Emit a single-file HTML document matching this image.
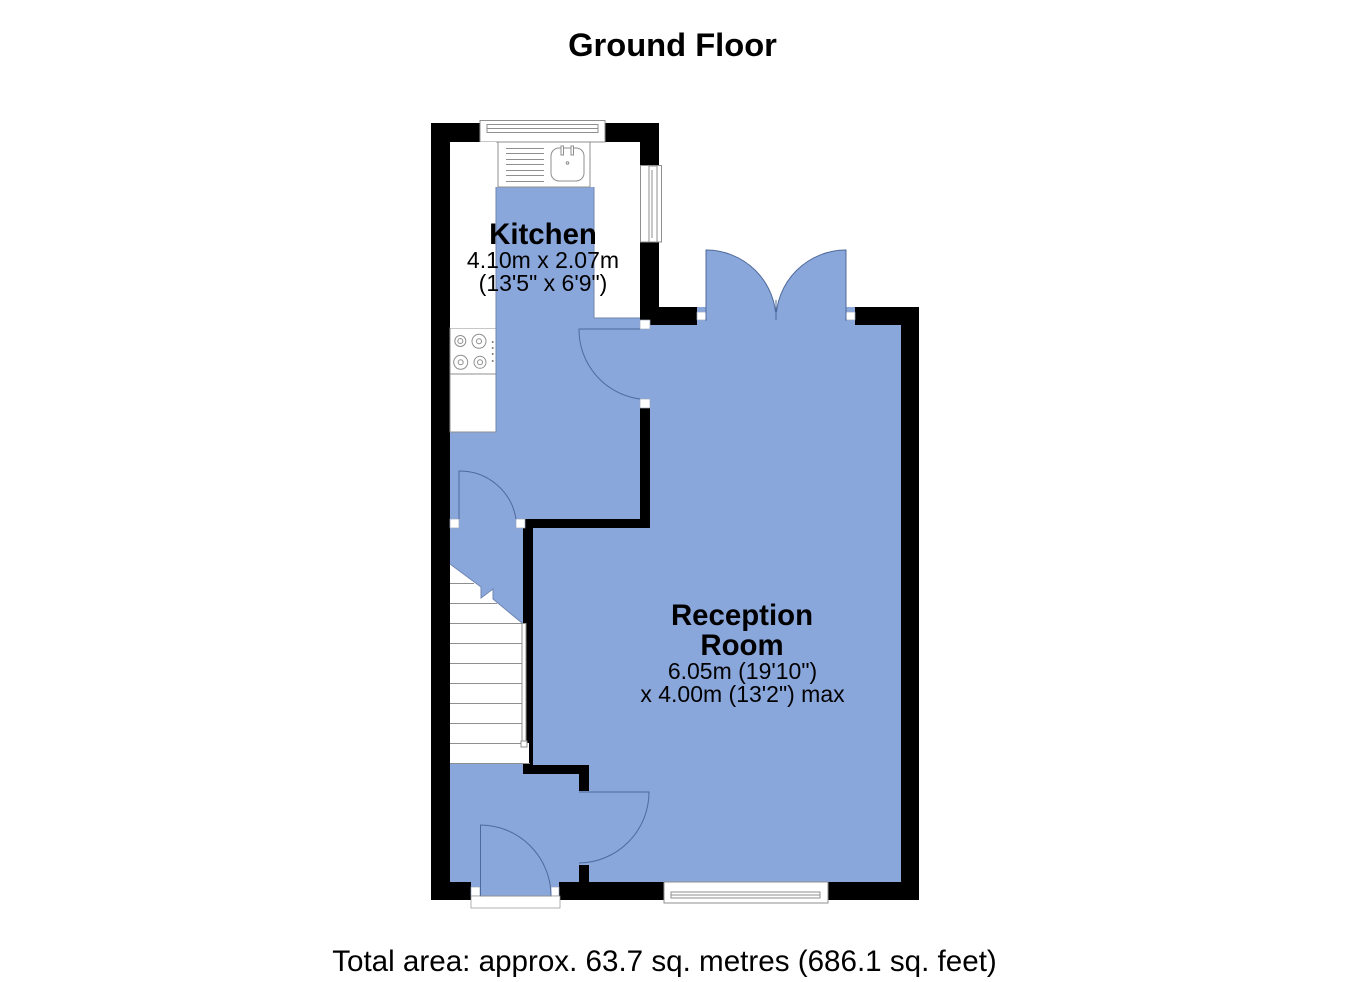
<!DOCTYPE html>
<html><head><meta charset="utf-8"><style>
html,body{margin:0;padding:0;background:#fff;width:1350px;height:982px;overflow:hidden}
svg{display:block;filter:blur(0.35px)}
text{font-family:"Liberation Sans",Arial,sans-serif;fill:#000;text-anchor:middle}
.b{font-weight:bold;font-size:29.4px}
.r{font-size:23px}
</style></head><body>
<svg width="1350" height="982" viewBox="0 0 1350 982" xmlns="http://www.w3.org/2000/svg">
<rect width="1350" height="982" fill="#fff"/>
<text x="672.5" y="56" style="font-weight:bold;font-size:32.7px">Ground Floor</text>
<text x="664.5" y="971" style="font-size:29.6px">Total area: approx. 63.7 sq. metres (686.1 sq. feet)</text>

<!-- blue floor -->
<g fill="#8aa7dc" stroke="none">
<path d="M496 187H594V318H640V329H650V320H901V882H450V432H496Z"/>
<rect x="533" y="320" width="368" height="562"/>
<rect x="450" y="432" width="73" height="132"/>
<path d="M450 528H523V623L493 599V589L481 598V587L450 564Z"/>
<rect x="450" y="763" width="130" height="125"/>
<rect x="697" y="307" width="10" height="6"/>
<rect x="846" y="307" width="10" height="6"/>
</g>

<!-- walls -->
<g fill="#000">
<rect x="431" y="123" width="19" height="777"/>
<rect x="431" y="123" width="49" height="19"/>
<rect x="605" y="123" width="54" height="19"/>
<rect x="640" y="123" width="19" height="42"/>
<rect x="640" y="242" width="19" height="83"/>
<rect x="640" y="307" width="57" height="18"/>
<rect x="855" y="307" width="64" height="18"/>
<rect x="901" y="307" width="18" height="593"/>
<rect x="640" y="408" width="10" height="120"/>
<rect x="523" y="519" width="127" height="9"/>
<rect x="523" y="519" width="10" height="255"/>
<rect x="523" y="765" width="66" height="9"/>
<rect x="579" y="765" width="10" height="26"/>
<rect x="579" y="865" width="10" height="20"/>
<rect x="431" y="882" width="40" height="18"/>
<rect x="559" y="882" width="105" height="18"/>
<rect x="828" y="882" width="91" height="18"/>
</g>

<g fill="#fff" stroke="#8f8f8f" stroke-width="1">
<!-- top window -->
<rect x="480" y="120.500" width="125" height="21.500"/>
<rect x="487" y="124.500" width="111" height="8"/>
<line x1="487" y1="128.500" x2="598" y2="128.500"/>
<!-- right window -->
<rect x="640.500" y="165.500" width="21" height="76.500"/>
<rect x="649" y="166" width="8" height="76"/>
<line x1="652" y1="170" x2="652" y2="238"/>
<!-- bottom window -->
<rect x="664" y="882" width="164" height="21"/>
<rect x="671" y="892" width="149" height="6"/>
<line x1="671" y1="895" x2="820" y2="895"/>
<!-- sink unit -->
<rect x="498" y="142" width="92" height="45"/>
<rect x="551" y="148" width="33" height="33" rx="8"/>
<circle cx="567.500" cy="163" r="1.300"/>
<rect x="561" y="146" width="2.500" height="9"/>
<rect x="571" y="146" width="2.500" height="9"/>
<!-- counter -->
<rect x="450" y="328" width="46" height="46" />
<rect x="450" y="374" width="46" height="58" />
<!-- hob -->
<circle cx="460.300" cy="341" r="5.500" fill="none"/>
<circle cx="460.300" cy="341" r="2.500" fill="none"/>
<circle cx="479" cy="341.300" r="7" fill="none"/>
<circle cx="479" cy="341.300" r="2.500" fill="none"/>
<circle cx="460.700" cy="362.300" r="7" fill="none"/>
<circle cx="460.700" cy="362.300" r="2.500" fill="none"/>
<circle cx="480" cy="362.300" r="6" fill="none"/>
<circle cx="480" cy="362.300" r="2.500" fill="none"/>
</g>
<g fill="#777"><circle cx="492.700" cy="342" r="1"/><circle cx="492.700" cy="348" r="1"/><circle cx="492.700" cy="354" r="1"/><circle cx="492.700" cy="361" r="1"/></g>
<g stroke="#8f8f8f" stroke-width="1">
<line x1="506" y1="148.500" x2="544" y2="148.500"/><line x1="506" y1="153.500" x2="544" y2="153.500"/><line x1="506" y1="159.500" x2="544" y2="159.500"/><line x1="506" y1="164.500" x2="544" y2="164.500"/><line x1="506" y1="170.500" x2="544" y2="170.500"/><line x1="506" y1="175.500" x2="544" y2="175.500"/><line x1="506" y1="181.500" x2="544" y2="181.500"/>
</g>
<rect x="450" y="142" width="46" height="186" fill="#fff"/>
<rect x="594" y="187" width="46" height="131" fill="#fff"/>
<line x1="594" y1="318" x2="640" y2="318" stroke="#6f86b0"/>
<line x1="594" y1="187" x2="594" y2="318" stroke="#6f86b0"/>
<line x1="496" y1="187" x2="496" y2="432" stroke="#6f86b0"/>

<!-- stairs -->
<path d="M450 564L481 587V598L493 589V599L522 623H526V743H529V763H450Z" fill="#fff"/>
<path d="M450 564L481 587V598L493 589V599L522 623" fill="none" stroke="#6f86b0"/>
<g stroke="#8f8f8f" stroke-width="1">
<line x1="450" y1="583.500" x2="474" y2="583.500"/>
<line x1="450" y1="603.500" x2="497" y2="603.500"/>
<line x1="450" y1="623.500" x2="522" y2="623.500"/>
<line x1="450" y1="643.500" x2="522" y2="643.500"/>
<line x1="450" y1="663.500" x2="522" y2="663.500"/>
<line x1="450" y1="683.500" x2="522" y2="683.500"/>
<line x1="450" y1="703.500" x2="522" y2="703.500"/>
<line x1="450" y1="723.500" x2="522" y2="723.500"/>
<line x1="450" y1="743.500" x2="522" y2="743.500"/>
<line x1="450" y1="763.500" x2="530" y2="763.500"/>
</g>
<rect x="522" y="623.500" width="4" height="119" fill="#fff" stroke="#8f8f8f"/>
<rect x="521" y="741" width="6" height="6" fill="#fff" stroke="#8f8f8f"/>

<!-- door jamb squares -->
<g fill="#fff" stroke="#9aa6bf" stroke-width="0.700">
<rect x="640" y="320" width="10" height="9"/>
<rect x="640" y="399" width="10" height="9"/>
<rect x="450" y="519" width="9" height="9"/>
<rect x="516" y="519" width="9" height="9"/>
<rect x="697" y="312" width="9" height="8"/>
<rect x="846" y="312" width="9" height="8"/>
<rect x="471" y="887" width="9" height="9"/>
<rect x="551" y="887" width="8" height="9"/>
<rect x="471" y="896" width="89" height="12" stroke="#8f8f8f"/>
</g>

<!-- doors -->
<g fill="#8aa7dc" stroke="#4f6a9a" stroke-width="1">
<path d="M706 320V250A70 70 0 0 1 776 320Z"/>
<path d="M846 320V250A70 70 0 0 0 776 320Z"/>
<path d="M480.500 896V825A71 71 0 0 1 551 896Z"/>
</g>
<rect x="707" y="312" width="138" height="10" fill="#8aa7dc"/>
<line x1="776" y1="300" x2="776" y2="320" stroke="#4f6a9a"/>
<line x1="480.500" y1="896" x2="551" y2="896" stroke="#8f8f8f"/>
<g fill="none" stroke="#4f6a9a" stroke-width="1">
<path d="M640 329H579A70 70 0 0 0 640 399"/>
<path d="M459 519V471A57 57 0 0 1 516 519"/>
<path d="M579 792H649A71 71 0 0 1 579 863"/>
</g>

<text class="b" x="543" y="244">Kitchen</text>
<text class="r" x="543" y="268">4.10m x 2.07m</text>
<text class="r" x="543" y="291">(13'5" x 6'9")</text>
<text class="b" x="742" y="625">Reception</text>
<text class="b" x="742" y="655">Room</text>
<text class="r" x="742.500" y="679">6.05m (19'10")</text>
<text class="r" x="742.500" y="702">x 4.00m (13'2") max</text>
</svg>
</body></html>
